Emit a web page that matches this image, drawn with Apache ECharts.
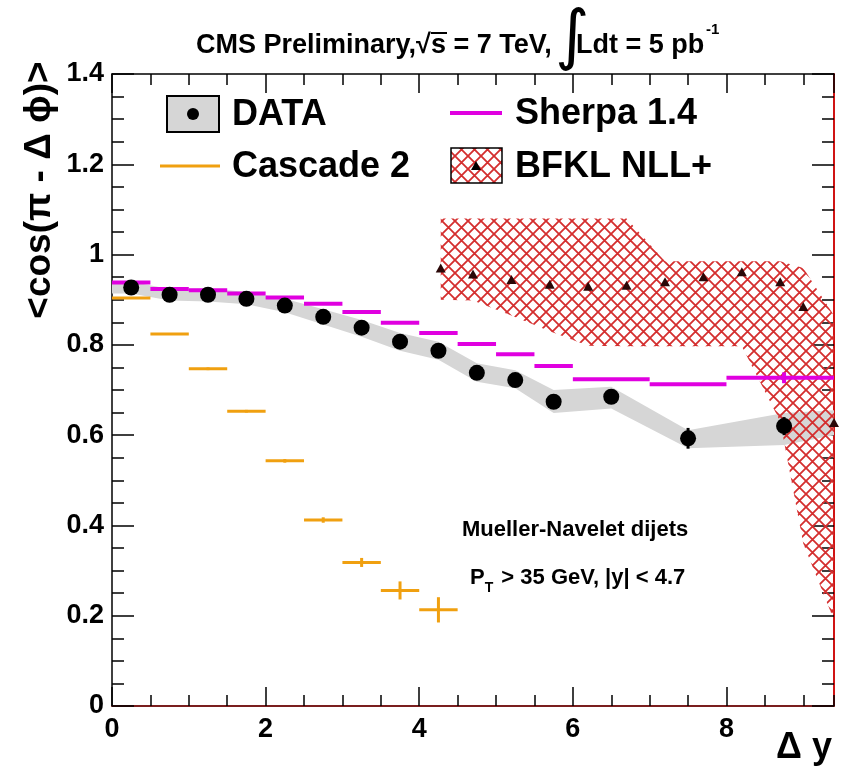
<!DOCTYPE html>
<html><head><meta charset="utf-8">
<script src="https://cdn.jsdelivr.net/npm/echarts@6/dist/echarts.min.js"></script>
<style>html,body{margin:0;padding:0;background:#fff}#c{width:850px;height:769px}</style>
</head><body><div id="c"></div>
<script>
// ---- DATA ----
const dataX   = [0.25,0.75,1.25,1.75,2.25,2.75,3.25,3.75,4.25,4.75,5.25,5.75,6.5,7.5,8.75];
const dataY   = [0.927,0.911,0.911,0.902,0.887,0.862,0.838,0.807,0.787,0.738,0.722,0.674,0.685,0.593,0.620];
const dataErr = [0.004,0.004,0.004,0.004,0.005,0.005,0.006,0.006,0.007,0.008,0.009,0.010,0.010,0.023,0.020];
// systematic band of DATA
const bandX  = [0,0.25,0.75,1.25,1.75,2.25,2.75,3.25,3.75,4.25,4.75,5.25,5.75,6.5,7.5,8.75,9.4];
const bandLo = [0.914,0.914,0.898,0.896,0.890,0.872,0.845,0.818,0.787,0.767,0.718,0.704,0.649,0.659,0.571,0.578,0.600];
const bandHi = [0.940,0.940,0.924,0.925,0.917,0.902,0.879,0.855,0.826,0.807,0.759,0.744,0.700,0.707,0.611,0.649,0.655];
// Sherpa 1.4
const sherpaLo  = [0,0.5,1,1.5,2,2.5,3,3.5,4,4.5,5,5.5,6,7,8];
const sherpaHi  = [0.5,1,1.5,2,2.5,3,3.5,4,4.5,5,5.5,6,7,8,9.4];
const sherpaY   = [0.938,0.924,0.921,0.914,0.905,0.891,0.873,0.849,0.826,0.802,0.779,0.753,0.724,0.713,0.727];
const sherpaErr = [0,0,0,0,0,0,0,0,0,0,0,0,0,0,0.012];
const sherpaErrX = [0.25,0.75,1.25,1.75,2.25,2.75,3.25,3.75,4.25,4.75,5.25,5.75,6.5,7.5,8.75];
// Cascade 2
const cascLo  = [0,0.5,1,1.5,2,2.5,3,3.5,4];
const cascHi  = [0.5,1,1.5,2,2.5,3,3.5,4,4.5];
const cascY   = [0.904,0.824,0.747,0.653,0.543,0.412,0.318,0.256,0.213];
const cascErr = [0.002,0.002,0.003,0.003,0.004,0.006,0.010,0.020,0.028];
// BFKL NLL+
const bfklX  = [4.28,4.7,5.2,5.7,6.2,6.7,7.2,7.7,8.2,8.7,9.0,9.4];
const bfklY  = [0.970,0.957,0.945,0.934,0.930,0.932,0.940,0.951,0.962,0.940,0.885,0.628];
const bfklLo = [0.900,0.898,0.865,0.830,0.798,0.797,0.797,0.797,0.797,0.630,0.360,0.190];
const bfklHi = [1.080,1.080,1.080,1.080,1.080,1.080,0.985,0.985,0.985,0.985,0.970,0.865];
// ticks
const xMajorLabels = ['0','2','4','6','8'];

// ---- STYLE ----
const FONT = '"Liberation Sans", Arial, "DejaVu Sans", sans-serif';
const MAGENTA = '#e000e0', ORANGE = '#f0a010', HATCH = '#d42e2e', GREY = '#d6d6d6';

function hatchCanvas(){
  const s = 13, c = document.createElement('canvas');
  c.width = s; c.height = s;
  const g = c.getContext('2d');
  g.strokeStyle = HATCH; g.lineWidth = 1.8;
  g.beginPath(); g.moveTo(0,0); g.lineTo(s,s); g.moveTo(s,0); g.lineTo(0,s); g.stroke();
  return c;
}
const hatchPattern = {image: hatchCanvas(), repeat: 'repeat'};

const chart = echarts.init(document.getElementById('c'), null, {renderer:'canvas'});

function bandPolygon(xs, lo, hi, style){
  return function(params, api){
    const pts = [];
    for (let i = 0; i < xs.length; i++) pts.push(api.coord([xs[i], hi[i]]));
    for (let i = xs.length - 1; i >= 0; i--) pts.push(api.coord([xs[i], lo[i]]));
    return {type:'polygon', shape:{points:pts}, style: style};
  };
}

function hBars(lo, hi, y, err, errX, color, width){
  return function(params, api){
    const i = params.dataIndex;
    const a = api.coord([lo[i], y[i]]), b = api.coord([hi[i], y[i]]);
    const children = [{type:'line', shape:{x1:a[0],y1:a[1],x2:b[0],y2:b[1]}, style:{stroke:color, lineWidth:width}}];
    if (err[i] > 0) {
      const cx = errX ? errX[i] : (lo[i]+hi[i])/2;
      const t = api.coord([cx, y[i]+err[i]]), u = api.coord([cx, y[i]-err[i]]);
      children.push({type:'line', shape:{x1:t[0],y1:t[1],x2:u[0],y2:u[1]}, style:{stroke:color, lineWidth:width}});
    }
    return {type:'group', children};
  };
}

function vErr(params, api){
  const i = params.dataIndex;
  const t = api.coord([dataX[i], dataY[i]+dataErr[i]]), u = api.coord([dataX[i], dataY[i]-dataErr[i]]);
  return {type:'line', shape:{x1:t[0],y1:t[1],x2:u[0],y2:u[1]}, style:{stroke:'#000', lineWidth:3}};
}

const tickLabel = {fontFamily: FONT, fontWeight:'bold', fontSize:27, color:'#000'};
const TK = {color:'#000', width:1.5};
const gridBox = {left:112, right:16, top:74, bottom:63, containLabel:false};

function xAx(grid, pos, interval, len, line, labels){
  return {type:'value', gridIndex:grid, position:pos, min:0, max:9.4, interval:interval,
    splitLine:{show:false},
    axisLine: line ? {show:true, onZero:false, lineStyle:line} : {show:false, onZero:false},
    axisTick:{show:true, inside:true, length:len, lineStyle:TK},
    axisLabel: labels ? Object.assign({show:true, showMaxLabel:false, margin:10,
      formatter: v => { const k = Math.round(v/2); return Math.abs(v - 2*k) < 1e-6 ? xMajorLabels[k] : ''; }}, tickLabel)
      : {show:false}};
}
function yAx(grid, pos, interval, len, line, labels){
  return {type:'value', gridIndex:grid, position:pos, min:0, max:1.4, interval:interval,
    splitLine:{show:false},
    axisLine: line ? {show:true, onZero:false, lineStyle:line} : {show:false, onZero:false},
    axisTick:{show:true, inside:true, length:len, lineStyle:TK},
    axisLabel: labels ? Object.assign({show:true, margin:8}, tickLabel) : {show:false}};
}

const option = {
  animation:false,
  backgroundColor:'#fff',
  grid:[Object.assign({}, gridBox), Object.assign({}, gridBox)],
  xAxis:[
    xAx(0, 'bottom', 2, 19, {color:'#7a1e1e', width:2}, true),
    xAx(0, 'top', 2, 19, {color:'#000', width:1.5}, false),
    xAx(1, 'bottom', 0.5, 11, null, false),
    xAx(1, 'top', 0.5, 11, null, false)
  ],
  yAxis:[
    yAx(0, 'left', 0.2, 22, {color:'#000', width:1.5}, true),
    yAx(0, 'right', 0.2, 22, {color:'#d01414', width:2}, false),
    yAx(1, 'left', 0.05, 12, null, false),
    yAx(1, 'right', 0.05, 12, null, false)
  ],
  series:[
    {type:'custom', name:'DATA band', clip:true, z:1, data:[[0,0]],
      renderItem: bandPolygon(bandX, bandLo, bandHi, {fill:GREY})},
    {type:'custom', name:'BFKL band', clip:true, z:2, data:[[5,1]],
      renderItem: bandPolygon(bfklX, bfklLo, bfklHi, {fill:hatchPattern})},
    {type:'custom', name:'Sherpa 1.4', clip:true, z:3,
      data: sherpaY.map((v,i)=>[sherpaLo[i], sherpaHi[i], v]), encode:{x:[0,1], y:2},
      renderItem: hBars(sherpaLo, sherpaHi, sherpaY, sherpaErr, sherpaErrX, MAGENTA, 4)},
    {type:'custom', name:'Cascade 2', clip:true, z:3,
      data: cascY.map((v,i)=>[cascLo[i], cascHi[i], v]), encode:{x:[0,1], y:2},
      renderItem: hBars(cascLo, cascHi, cascY, cascErr, null, ORANGE, 3)},
    {type:'custom', name:'DATA err', clip:true, z:4,
      data: dataY.map((v,i)=>[dataX[i], v]), renderItem: vErr},
    {type:'scatter', name:'DATA', z:5, symbol:'circle', symbolSize:16, itemStyle:{color:'#000', opacity:1},
      data: dataY.map((v,i)=>[dataX[i], v])},
    {type:'scatter', name:'BFKL NLL+', z:5, clip:true, symbol:'triangle', symbolSize:[10,9], itemStyle:{color:'#2a0808', opacity:1},
      data: bfklY.map((v,i)=>[bfklX[i], v])}
  ],
  graphic:[
    // title
    {type:'text', x:196, y:46, style:{text:'CMS Preliminary,√s = 7 TeV,', fontFamily:FONT, fontWeight:'bold', fontSize:27, fill:'#000', verticalAlign:'middle'}},
    {type:'line', shape:{x1:431, y1:33, x2:447, y2:33}, style:{stroke:'#000', lineWidth:2}},
    {type:'text', x:555, y:40, style:{text:'∫', fontFamily:'"DejaVu Sans", sans-serif', fontSize:66, fill:'#000', verticalAlign:'middle'}},
    {type:'text', x:576, y:46, style:{text:'Ldt = 5 pb', fontFamily:FONT, fontWeight:'bold', fontSize:27, fill:'#000', verticalAlign:'middle'}},
    {type:'text', x:706, y:30, style:{text:'-1', fontFamily:FONT, fontWeight:'bold', fontSize:15, fill:'#000', verticalAlign:'middle'}},
    // legend
    {type:'rect', shape:{x:167, y:96, width:52, height:36}, style:{fill:GREY, stroke:'#000', lineWidth:2}},
    {type:'circle', shape:{cx:193, cy:114, r:6}, style:{fill:'#000'}},
    {type:'text', x:232, y:115, style:{text:'DATA', fontFamily:FONT, fontWeight:'bold', fontSize:36, fill:'#000', verticalAlign:'middle'}},
    {type:'line', shape:{x1:160, y1:166, x2:220, y2:166}, style:{stroke:ORANGE, lineWidth:3}},
    {type:'text', x:232, y:167, style:{text:'Cascade 2', fontFamily:FONT, fontWeight:'bold', fontSize:36, fill:'#000', verticalAlign:'middle'}},
    {type:'line', shape:{x1:450, y1:113, x2:502, y2:113}, style:{stroke:MAGENTA, lineWidth:4}},
    {type:'text', x:515, y:114, style:{text:'Sherpa 1.4', fontFamily:FONT, fontWeight:'bold', fontSize:36, fill:'#000', verticalAlign:'middle'}},
    {type:'rect', shape:{x:451, y:148, width:51, height:35}, style:{fill:hatchPattern, stroke:'#000', lineWidth:1.5}},
    {type:'polygon', shape:{points:[[476,161],[481,170],[471,170]]}, style:{fill:'#000'}},
    {type:'text', x:515, y:167, style:{text:'BFKL NLL+', fontFamily:FONT, fontWeight:'bold', fontSize:36, fill:'#000', verticalAlign:'middle'}},
    // annotation
    {type:'text', x:462, y:530, style:{text:'Mueller-Navelet dijets', fontFamily:FONT, fontWeight:'bold', fontSize:22, fill:'#000', verticalAlign:'middle'}},
    {type:'text', x:470, y:574, style:{
      text:'{b|P}{t|T}{b| > 35 GeV, |y| < 4.7}',
      rich:{
        b:{fontFamily:FONT, fontWeight:'bold', fontSize:22, color:'#000', verticalAlign:'bottom', lineHeight:30},
        t:{fontFamily:FONT, fontWeight:'bold', fontSize:14, color:'#000', verticalAlign:'bottom', lineHeight:30, padding:[0,2,-6,0]}
      }, verticalAlign:'middle'}},
    // axis titles
    {type:'text', x:40, y:190, rotation:Math.PI/2, style:{text:'<cos(π - Δ ϕ)>', fontFamily:FONT, fontWeight:'bold', fontSize:37, fill:'#000', align:'center', verticalAlign:'middle'}},
    {type:'text', x:832, y:748, style:{text:'Δ y', fontFamily:FONT, fontWeight:'bold', fontSize:36, fill:'#000', align:'right', verticalAlign:'middle'}}
  ]
};
chart.setOption(option);
</script></body></html>
